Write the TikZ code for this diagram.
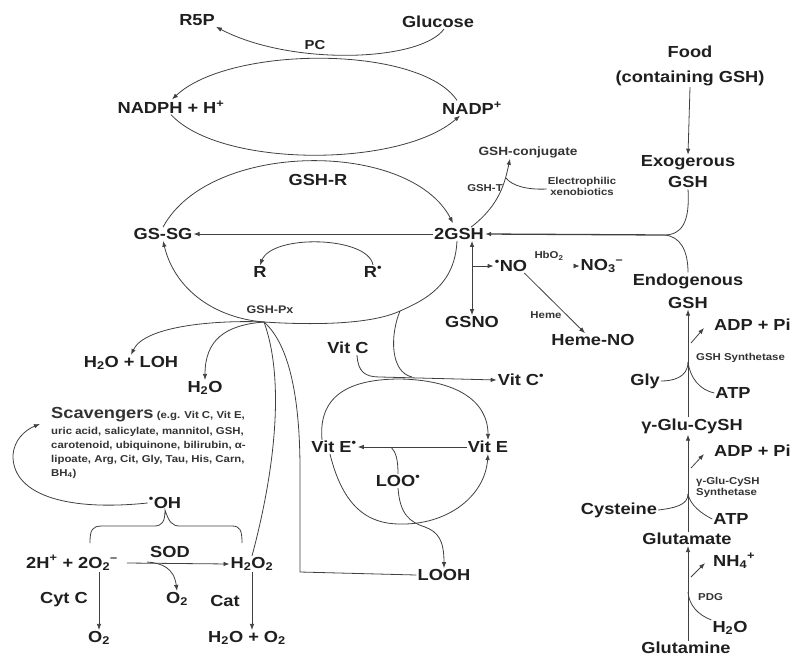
\documentclass[tikz,border=0pt]{standalone}
\usepackage{fontspec}
\setmainfont{Liberation Sans}[FakeStretch=1.14]
\usetikzlibrary{arrows.meta}
\newcommand{\chg}[2]{\textsubscript{#1}\textsuperscript{#2}}
\newcommand{\rad}{\textsuperscript{•}}
\begin{document}
\begin{tikzpicture}[x=1pt,y=-1pt,
 lbl/.style={font=\fontsize{16}{18}\selectfont\bfseries, inner sep=1pt, text=black!88},
 sm/.style={font=\fontsize{10}{11}\selectfont\bfseries, inner sep=1pt, text=black!80},
 ln/.style={draw=black!75, line width=0.8pt},
 tip/.style={-{Latex[length=6pt,width=4.5pt]}},
 arr/.style={ln, tip},
 ]
\useasboundingbox (0,0) rectangle (792,659);
% ---------- nodes ----------
\node[lbl] (R5P) at (197,20) {R5P};
\node[lbl] (Glucose) at (438,22) {Glucose};
\node[lbl, font=\fontsize{13}{15}\selectfont\bfseries] (PC) at (315,45) {PC};
\node[lbl] (NADPH) at (171,107) {NADPH + H\textsuperscript{+}};
\node[lbl] (NADP) at (472,108) {NADP\textsuperscript{+}};
\node[lbl] (GSHR) at (318,180) {GSH-R};
\node[sm, font=\fontsize{12}{13}\selectfont\bfseries] (Conj) at (528,152) {GSH-conjugate};
\node[sm] (GSHT) at (485,188) {GSH-T};
\node[sm, align=center] (Elec) at (582,186) {Electrophilic\\xenobiotics};
\node[lbl, align=center, font=\fontsize{16}{25}\selectfont\bfseries] (Food) at (690,66) {Food\\(containing GSH)};
\node[lbl, align=center, font=\fontsize{16}{21}\selectfont\bfseries] (Exog) at (688,172) {Exogerous\\GSH};
\node[lbl] (GSSG) at (163,234) {GS-SG};
\node[lbl] (GSH2) at (459,234) {2GSH};
\node[lbl] (R) at (260,272) {R};
\node[lbl] (Rr) at (373,272) {R\rad};
\node[sm, font=\fontsize{11}{12}\selectfont\bfseries] (GSHPx) at (270,310) {GSH-Px};
\node[lbl] (NO) at (511,266) {\rad NO};
\node[lbl] (NO3) at (602,266) {NO\chg{3}{–}};
\node[sm] (HbO) at (549,256) {HbO\textsubscript{2}};
\node[lbl] (GSNO) at (472,322) {GSNO};
\node[sm] (Heme) at (546,315) {Heme};
\node[lbl] (HemeNO) at (593,340) {Heme-NO};
\node[lbl, align=center, font=\fontsize{16}{23}\selectfont\bfseries] (Endog) at (688,291) {Endogenous\\GSH};
\node[lbl, anchor=west] (ADP1) at (713,325) {ADP + Pi};
\node[sm, anchor=west] (GSyn) at (695,358) {GSH Synthetase};
\node[lbl] (Gly) at (645,381) {Gly};
\node[lbl] (ATP1) at (733,393) {ATP};
\node[lbl] (GGC) at (692,426) {γ-Glu-CySH};
\node[lbl, anchor=west] (ADP2) at (713,451) {ADP + Pi};
\node[sm, anchor=west, align=left] (GGSyn) at (695,487) {γ-Glu-CySH\\Synthetase};
\node[lbl] (Cys) at (619,510) {Cysteine};
\node[lbl] (ATP2) at (731,519) {ATP};
\node[lbl] (Glu) at (687,539) {Glutamate};
\node[lbl, anchor=west] (NH4) at (712,561) {NH\chg{4}{+}};
\node[sm, anchor=west] (PDG) at (697,597) {PDG};
\node[lbl] (H2Or) at (730,628) {H\textsubscript{2}O};
\node[lbl] (Gln) at (686,648) {Glutamine};
\node[lbl] (H2OLOH) at (131,363) {H\textsubscript{2}O + LOH};
\node[lbl] (H2O) at (205,388) {H\textsubscript{2}O};
\node[sm, anchor=north west, align=left, font=\fontsize{10}{14}\selectfont\bfseries] (Scav) at (50,406)
 {{\fontsize{16}{14}\selectfont Scavengers} (e.g. Vit C, Vit E,\\[2pt]uric acid, salicylate, mannitol, GSH,\\carotenoid, ubiquinone, bilirubin, α-\\lipoate, Arg, Cit, Gly, Tau, His, Carn,\\BH\textsubscript{4})};
\node[lbl] (OH) at (165,503) {\rad OH};
\node[lbl] (O2m) at (72,563) {2H\textsuperscript{+} + 2O\chg{2}{–}};
\node[lbl] (SOD) at (170,552) {SOD};
\node[lbl] (H2O2) at (252,564) {H\textsubscript{2}O\textsubscript{2}};
\node[lbl] (O2a) at (177,599) {O\textsubscript{2}};
\node[lbl] (CytC) at (64,600) {Cyt C};
\node[lbl] (Cat) at (225,601) {Cat};
\node[lbl] (O2b) at (99,638) {O\textsubscript{2}};
\node[lbl] (H2OO2) at (247,638) {H\textsubscript{2}O + O\textsubscript{2}};
\node[lbl] (VitC) at (348,348) {Vit C};
\node[lbl] (VitCr) at (521,380) {Vit C\rad};
\node[lbl] (VitEr) at (334,447) {Vit E\rad};
\node[lbl] (VitE) at (488,447) {Vit E};
\node[lbl] (LOO) at (398,481) {LOO\rad};
\node[lbl] (LOOH) at (444,575) {LOOH};
% ---------- coordinates ----------
\coordinate (P) at (264,322);
\coordinate (Q) at (400,311);
\coordinate (J1) at (664,235);
\coordinate (C0) at (300,470);
\coordinate (C1) at (300,572);
\coordinate (C2) at (380,377);
\coordinate (C3) at (13,455);
\coordinate (SC) at (40,424);
\coordinate (M1) at (506,178);
\coordinate (N1) at (472,266);
\coordinate (S1) at (688,362);
\coordinate (B1) at (691,343);
\coordinate (B1t) at (704,328);
\coordinate (S2) at (688,494);
\coordinate (B2) at (691,468);
\coordinate (B2t) at (704,454);
\coordinate (S3) at (688,592);
\coordinate (B3) at (691,577);
\coordinate (B3t) at (705,563);
\coordinate (D1) at (147,562);
% ---------- connectors ----------
% PC
\draw[arr] ([xshift=6pt]Glucose.south) .. controls (420,62) and (290,66) .. (R5P.south east);
\draw[arr] ([xshift=-15pt]NADP.north) .. controls (420,45) and (230,45) .. ([xshift=1pt]NADPH.north);
% GSH-R
\draw[arr] (NADPH.south) .. controls (220,168) and (400,168) .. ([xshift=-12pt]NADP.south);
\draw[arr] (GSSG.north) .. controls (210,140) and (410,140) .. ([xshift=-6pt,yshift=4pt]GSH2.north);
% GSH-T
\draw[arr] ([xshift=12pt]GSH2.north) .. controls (500,205) and (505,182) .. ([xshift=-18pt]Conj.south);
\draw[ln] ([yshift=-3pt]Elec.west) .. controls (528,190) and (512,186) .. (M1);
% 2GSH line
\draw[arr, line width=1.3pt] (J1) -- (GSH2.east);
\draw[arr] (GSH2.west) -- (GSSG.east);
\draw[ln] (Exog.south) .. controls (690,222) and (682,235) .. (J1);
\draw[ln] (Endog.north) .. controls (688,250) and (680,236) .. (J1);
% R
\draw[arr] (Rr.north) .. controls (368,236) and (272,234) .. (R.north);
% GSH-Px loop
\draw[ln] ([xshift=-2pt]GSH2.south) .. controls (455,285) and (425,300) .. (Q) .. controls (370,325) and (310,325) .. (P);
\draw[arr] (P) .. controls (215,318) and (175,290) .. (GSSG.south);
\draw[arr] (P) .. controls (220,320) and (145,325) .. (H2OLOH.north);
\draw[arr] (P) .. controls (225,325) and (205,340) .. (H2O.north);
\draw[ln] (P) .. controls (285,380) and (275,470) .. (H2O2.north);
\draw[ln] (P) .. controls (290,345) and (300,400) .. (C0) -- (C1) -- (LOOH.west);
% Vit C
\draw[ln] (Q) .. controls (390,335) and (390,372) .. (412,377);
\draw[arr] ([xshift=9pt]VitC.south) .. controls (358,372) and (365,377) .. (C2) -- (VitCr.west);
% Vit E cycle
\draw[arr] ([xshift=-12pt]VitEr.north) .. controls (318,395) and (350,379) .. (400,379) .. controls (455,380) and (488,400) .. (VitE.north);
\draw[arr] (VitE.west) -- (VitEr.east);
\draw[ln] (LOO.north) .. controls (398,460) and (396,452) .. (391,447);
\draw[arr] ([xshift=-4pt]VitEr.south) .. controls (345,515) and (375,525) .. (405,524) .. controls (450,523) and (485,495) .. (VitE.south);
\draw[arr] (LOO.south) .. controls (400,515) and (410,522) .. (425,527) .. controls (438,532) and (444,540) .. (LOOH.north);
% NO
\draw[ln, {Latex[length=6pt,width=4.5pt]}-{Latex[length=6pt,width=4.5pt]}] (GSH2.south -| GSNO.north) -- (GSNO.north);
\draw[arr] (N1) -- (NO.west);
\draw[ln, double, double distance=1.4pt, line width=0.6pt, -{Latex[length=6pt,width=5pt]}] (NO.east) -- (NO3.west);
\draw[arr] ([xshift=-4pt]NO.south east) -- ([xshift=-8pt]HemeNO.north);
% right column
\draw[arr] (Food.south) -- (Exog.north);
\draw[arr] (Endog.south |- GGC.north) -- (Endog.south);
\draw[ln] (Gly.east) .. controls (672,381) and (688,378) .. (S1);
\draw[ln] (ATP1.west) .. controls (700,390) and (690,378) .. (S1);
\draw[arr] (B1) -- (B1t);
\draw[arr] (Glu.north -| S2) -- (GGC.south -| S2);
\draw[ln] (Cys.east) .. controls (675,508) and (688,505) .. (S2);
\draw[ln] (ATP2.west) .. controls (702,514) and (690,505) .. (S2);
\draw[arr] (B2) -- (B2t);
\draw[arr] (Gln.north -| S3) -- (Glu.south -| S3);
\draw[ln] (H2Or.north west) .. controls (698,615) and (689,605) .. (S3);
\draw[arr] (B3) -- (B3t);
% left bottom
\draw[arr] (OH.west) .. controls (60,512) and (12,492) .. (C3) .. controls (14,440) and (25,430) .. (SC);
\draw[ln] (90,543) .. controls (90,530) and (92,526) .. (102,526) -- (154,526) .. controls (162,526) and (165,522) .. (OH.south) .. controls (169,522) and (172,526) .. (180,526) -- (232,526) .. controls (240,526) and (242,530) .. (242,543);
\draw[arr] ([xshift=8pt]O2m.east) -- (H2O2.west);
\draw[arr] (D1) .. controls (162,563) and (174,568) .. (O2a.north);
\draw[arr] (O2b.north |- O2m.south) -- (O2b.north);
\draw[arr] (H2O2.south) -- (H2O2.south |- H2OO2.north);
\end{tikzpicture}
\end{document}
